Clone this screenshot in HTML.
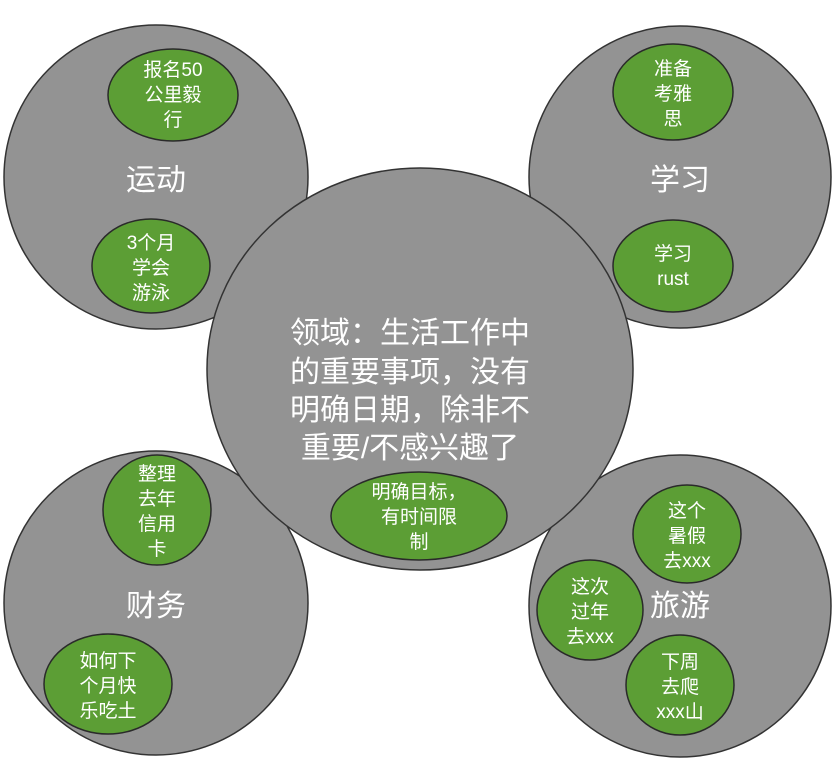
<!DOCTYPE html>
<html><head><meta charset="utf-8"><style>
html,body{margin:0;padding:0;background:#fff;}
svg{display:block;}
text{font-family:"Liberation Sans","Noto Sans CJK SC",sans-serif;fill:#fff;text-anchor:middle;}
.b{font-size:30px;}
.s{font-size:19px;}
</style></head><body>
<svg width="839" height="772" viewBox="0 0 839 772">
<g fill="#939393" stroke="#333" stroke-width="1.5">
<circle cx="156" cy="177" r="152"/>
<circle cx="680" cy="177" r="151"/>
<circle cx="156" cy="603" r="152"/>
<circle cx="680" cy="606" r="151"/>
<ellipse cx="420" cy="369" rx="213" ry="201"/>
</g>
<g fill="#5c9e35" stroke="#2a2a2a" stroke-width="1.5">
<ellipse cx="173" cy="95" rx="65" ry="46"/>
<ellipse cx="151" cy="266" rx="59" ry="47"/>
<ellipse cx="673" cy="92" rx="60" ry="48"/>
<ellipse cx="673" cy="266" rx="60" ry="46"/>
<ellipse cx="419" cy="516" rx="88" ry="44"/>
<ellipse cx="157" cy="510" rx="54" ry="55"/>
<ellipse cx="108" cy="684" rx="64" ry="50"/>
<ellipse cx="687" cy="534" rx="54" ry="49"/>
<ellipse cx="590" cy="610" rx="53" ry="50"/>
<ellipse cx="680" cy="685" rx="54" ry="50"/>
</g>
<text class="b" x="156" y="190">运动</text>
<text class="b" x="680" y="190">学习</text>
<text class="b" x="156" y="616">财务</text>
<text class="b" x="680" y="616">旅游</text>
<text class="b" x="410" y="343">领域：生活工作中</text>
<text class="b" x="410" y="382">的重要事项，没有</text>
<text class="b" x="410" y="420">明确日期，除非不</text>
<text class="b" x="410" y="458">重要/不感兴趣了</text>
<g class="s">
<text class="s" x="173" y="76">报名50</text><text class="s" x="173" y="101">公里毅</text><text class="s" x="173" y="126">行</text>
<text class="s" x="151" y="249">3个月</text><text class="s" x="151" y="274">学会</text><text class="s" x="151" y="299">游泳</text>
<text class="s" x="673" y="75">准备</text><text class="s" x="673" y="100">考雅</text><text class="s" x="673" y="125">思</text>
<text class="s" x="673" y="260">学习</text><text class="s" x="673" y="285">rust</text>
<text class="s" x="419" y="498">明确目标，</text><text class="s" x="419" y="523">有时间限</text><text class="s" x="419" y="548">制</text>
<text class="s" x="157" y="480">整理</text><text class="s" x="157" y="505">去年</text><text class="s" x="157" y="530">信用</text><text class="s" x="157" y="555">卡</text>
<text class="s" x="108" y="667">如何下</text><text class="s" x="108" y="692">个月快</text><text class="s" x="108" y="717">乐吃土</text>
<text class="s" x="687" y="517">这个</text><text class="s" x="687" y="542">暑假</text><text class="s" x="687" y="567">去xxx</text>
<text class="s" x="590" y="593">这次</text><text class="s" x="590" y="618">过年</text><text class="s" x="590" y="643">去xxx</text>
<text class="s" x="680" y="668">下周</text><text class="s" x="680" y="693">去爬</text><text class="s" x="680" y="718">xxx山</text>
</g>
</svg>
</body></html>
